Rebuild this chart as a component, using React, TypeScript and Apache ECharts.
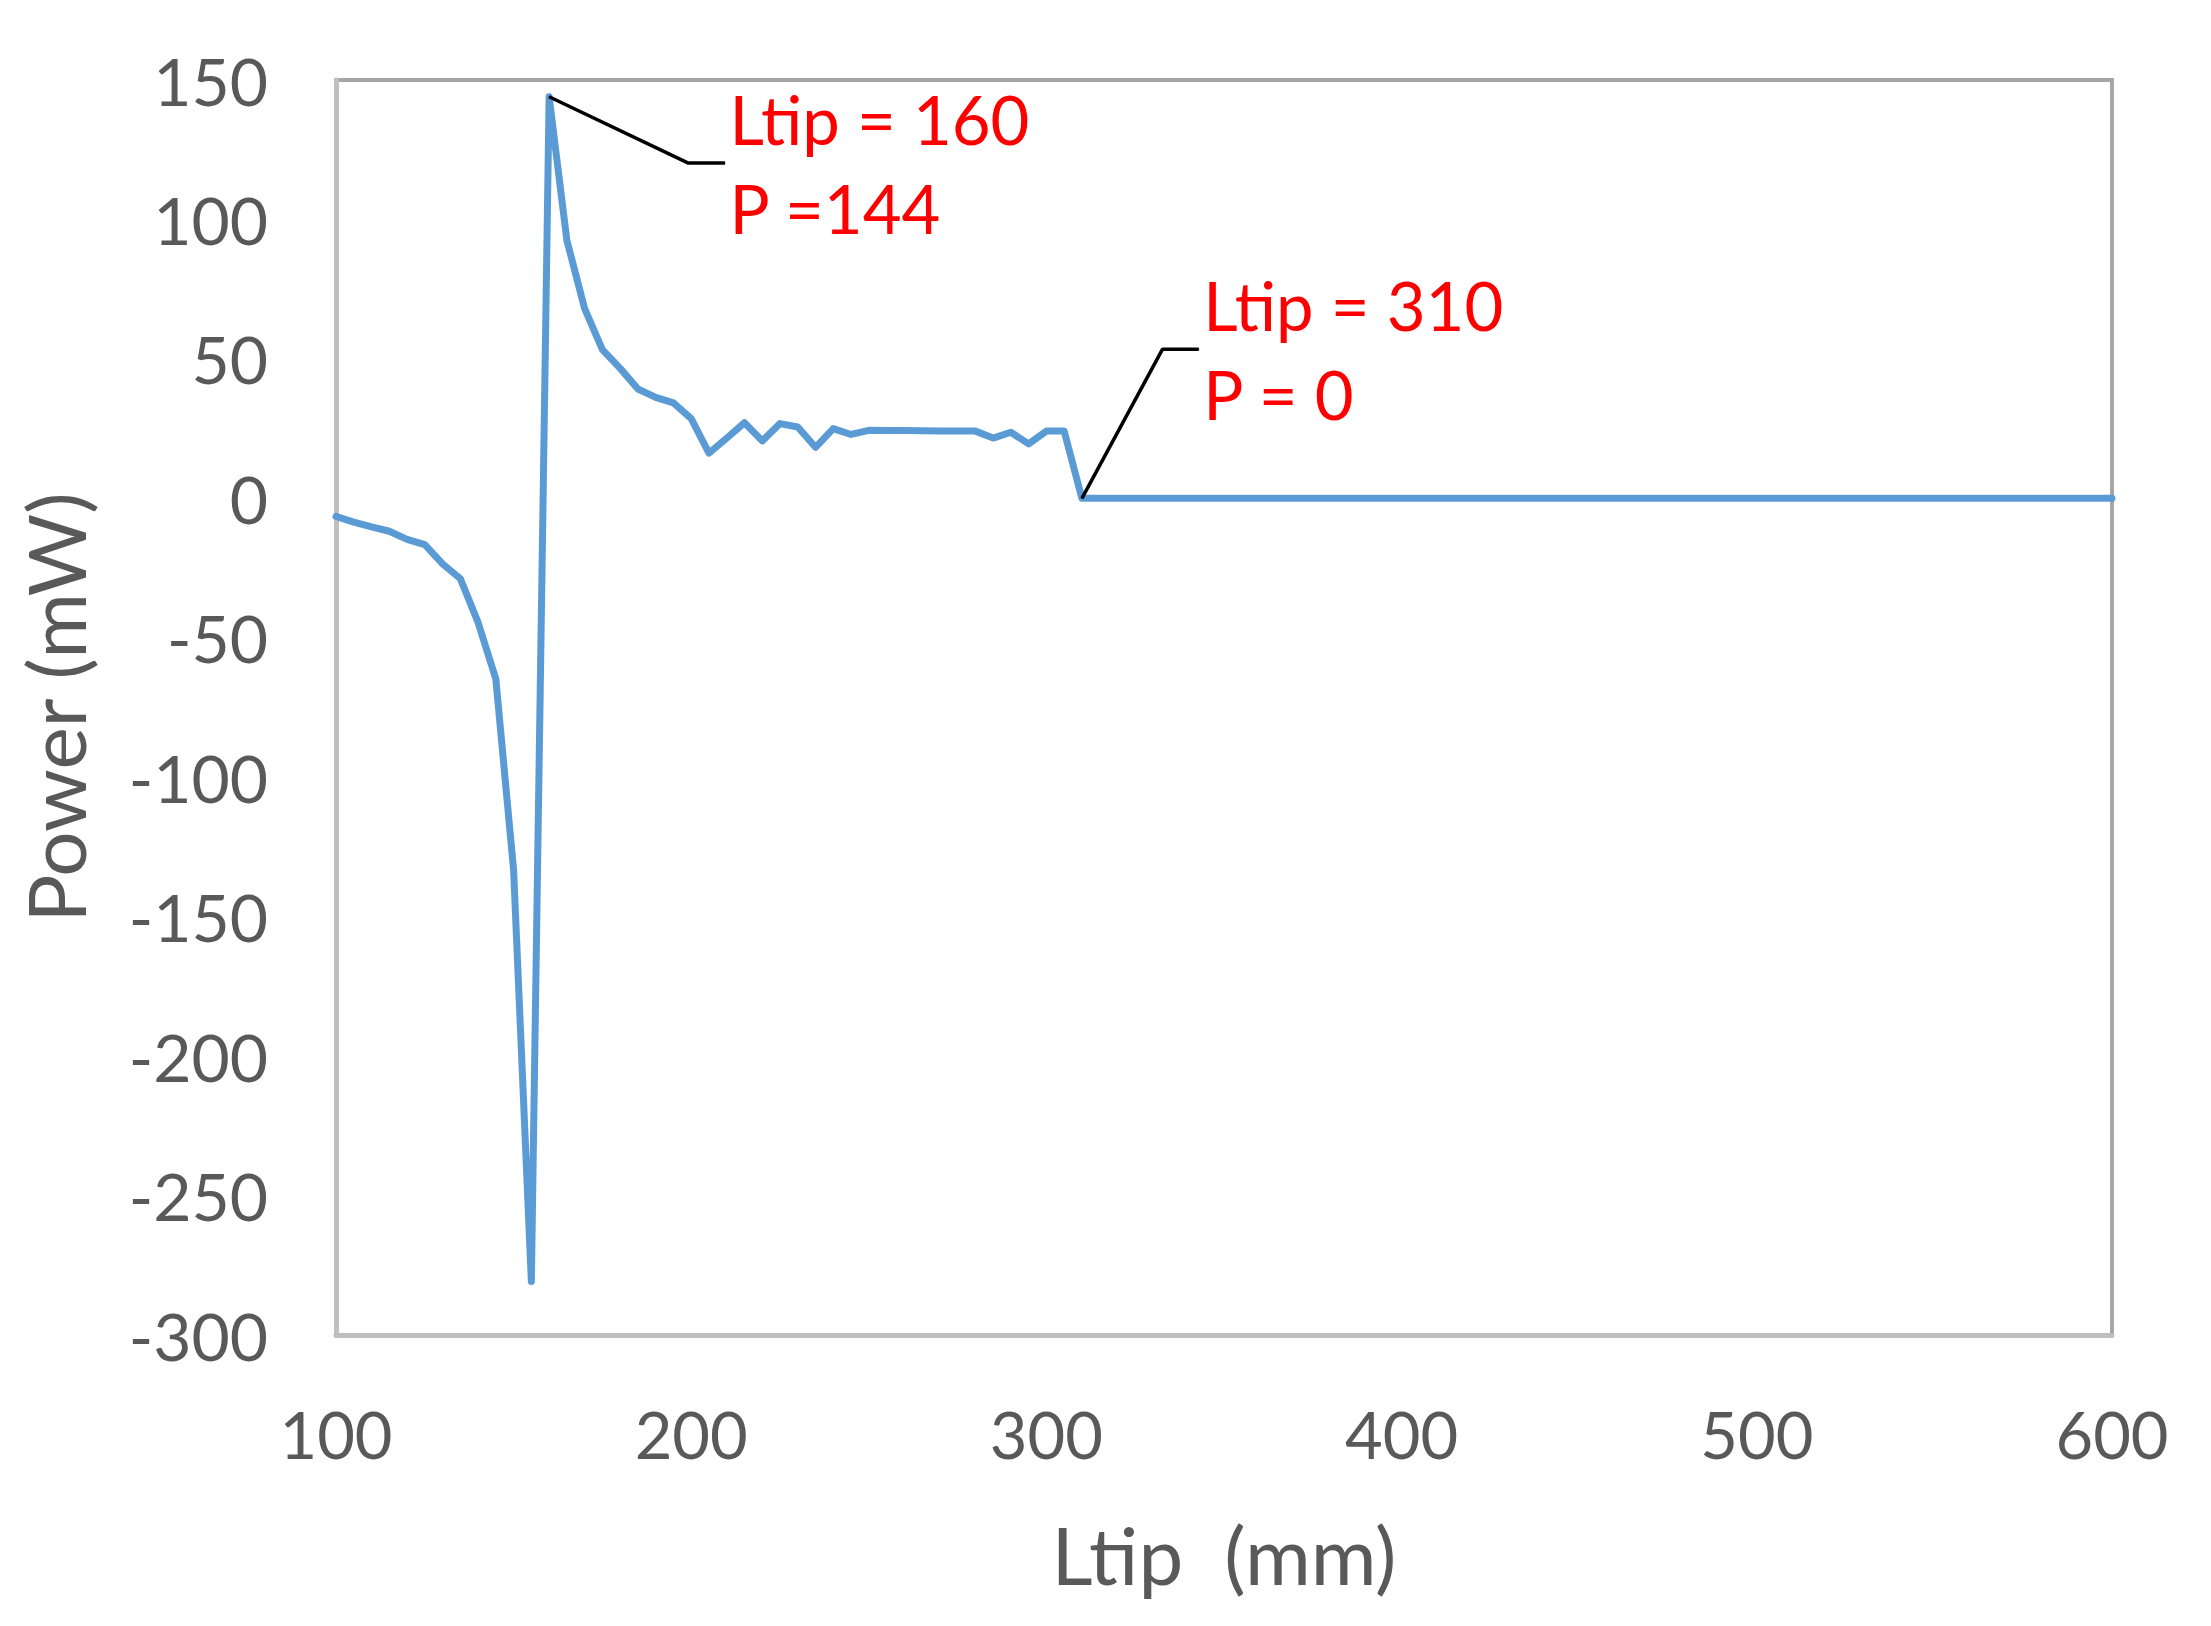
import React, { useEffect, useRef } from "react";
import * as echarts from "echarts";

const ltip = [100, 105, 110, 115, 120, 125, 130, 135, 140, 145, 150, 155, 160, 165, 170, 175, 180, 185, 190, 195, 200, 205, 210, 215, 220, 225, 230, 235, 240, 245, 250, 255, 260, 265, 270, 275, 280, 285, 290, 295, 300, 305, 310, 600];
const power = [-6.5, -8.5, -10.2, -11.8, -14.7, -16.6, -23.5, -28.8, -44.5, -64.8, -133.3, -280.8, 144, 92.5, 68, 53.3, 46.6, 39.2, 36.2, 34.2, 28.6, 16.2, 21.6, 27.1, 20.6, 26.8, 25.6, 18.3, 25, 22.9, 24.4, 24.3, 24.3, 24.2, 24.1, 24.1, 24.1, 21.6, 23.7, 19.5, 24.1, 24.1, 0, 0];

const calloutAX = [160, 199.2, 209.5];
const calloutAY = [144, 120.2, 120.2];
const calloutAText = "Ltip = 160\nP =144";

const calloutBX = [310, 332.7, 342.9];
const calloutBY = [0, 53.5, 53.5];
const calloutBText = "Ltip = 310\nP = 0";

const xTitle = "Ltip  (mm)";
const yTitle = "Power (mW)";

const FONT = "Lato";

function callout(xs: number[], ys: number[], text: string) {
  return {
    type: "line",
    data: xs.map((x, i) =>
      i === xs.length - 1
        ? {
            value: [x, ys[i]],
            label: {
              show: true,
              position: "right",
              distance: 4,
              formatter: text,
              color: "#FF0000",
              fontSize: 67,
              lineHeight: 89,
              fontFamily: FONT,
            },
          }
        : [x, ys[i]]
    ),
    symbol: "circle",
    symbolSize: 1,
    showSymbol: true,
    itemStyle: { color: "#000000" },
    lineStyle: { color: "#000000", width: 3.5 },
    z: 5,
    silent: true,
  };
}

export default function App() {
  const ref = useRef<HTMLDivElement>(null);
  useEffect(() => {
    document.body.style.margin = "0";
    const chart = echarts.init(ref.current!, undefined, { renderer: "svg" });
    chart.setOption({
      animation: false,
      backgroundColor: "#ffffff",
      grid: {
        left: 336,
        top: 80,
        right: 99,
        bottom: 291,
        show: true,
        borderColor: "#A6A6A6",
        borderWidth: 4,
        backgroundColor: "transparent",
      },
      xAxis: {
        type: "value",
        min: 100,
        max: 600,
        interval: 100,
        name: xTitle,
        nameLocation: "middle",
        nameGap: 179,
        nameTextStyle: { color: "#595959", fontSize: 80, fontFamily: FONT },
        axisLine: { show: true, onZero: false, lineStyle: { color: "#BFBFBF", width: 5 } },
        axisTick: { show: false },
        splitLine: { show: false },
        axisLabel: { color: "#595959", fontSize: 65, fontFamily: FONT, margin: 66 },
      },
      yAxis: {
        type: "value",
        min: -300,
        max: 150,
        interval: 50,
        name: yTitle,
        nameLocation: "middle",
        nameGap: 241,
        nameTextStyle: { color: "#595959", fontSize: 80, fontFamily: FONT },
        axisLine: { show: true, onZero: false, lineStyle: { color: "#BFBFBF", width: 5 } },
        axisTick: { show: false },
        splitLine: { show: false },
        axisLabel: { color: "#595959", fontSize: 66, fontFamily: FONT, margin: 68 },
      },
      series: [
        {
          type: "line",
          data: ltip.map((x, i) => [x, power[i]]),
          showSymbol: false,
          lineStyle: { color: "#5B9BD5", width: 7, join: "round", cap: "round" },
          z: 3,
          silent: true,
        },
        callout(calloutAX, calloutAY, calloutAText),
        callout(calloutBX, calloutBY, calloutBText),
      ],
    });
    return () => chart.dispose();
  }, []);
  return <div ref={ref} style={{ width: 2211, height: 1626 }} />;
}
